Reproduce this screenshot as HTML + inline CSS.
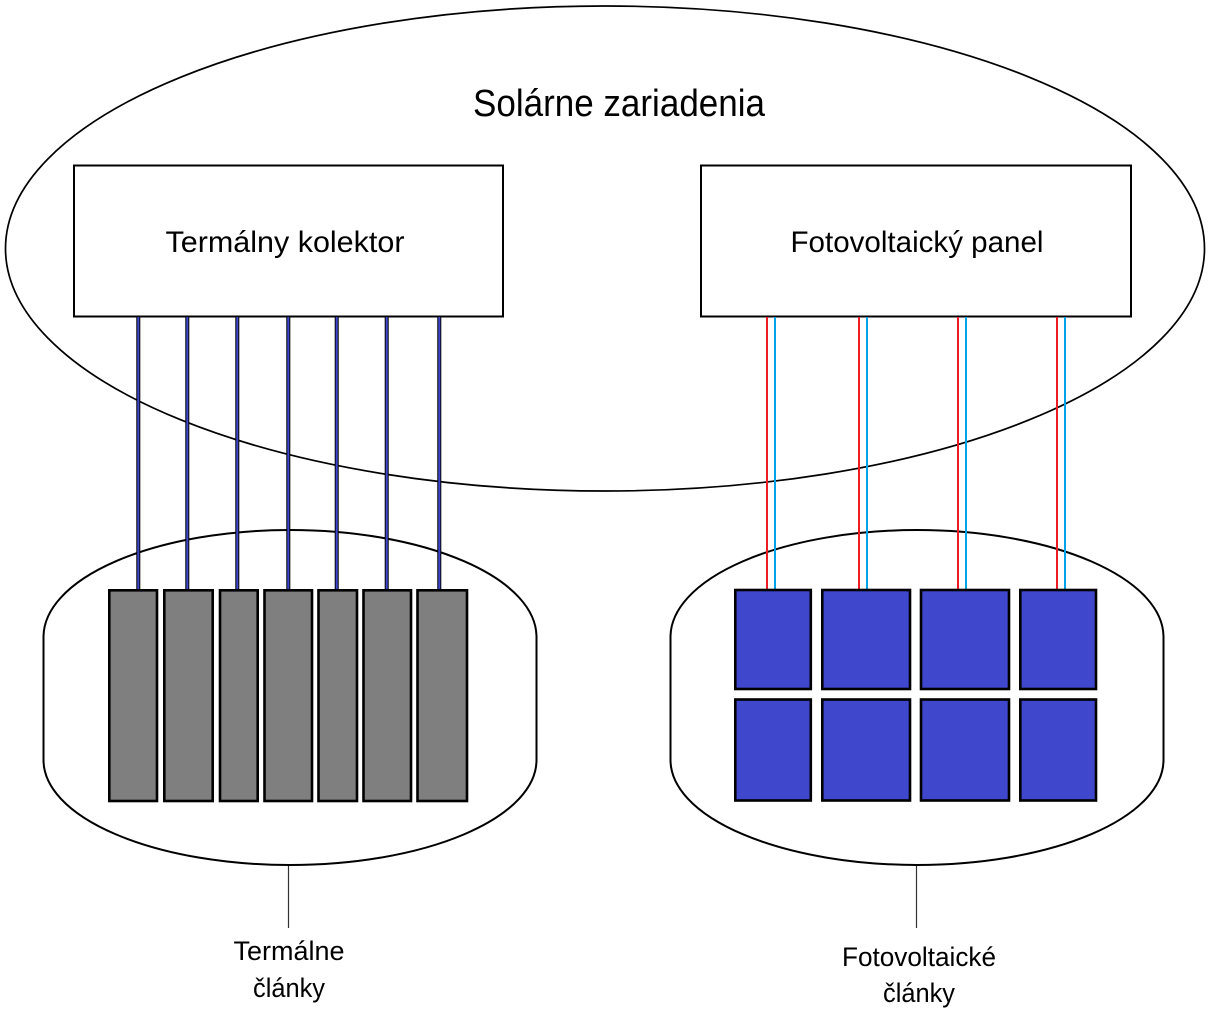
<!DOCTYPE html>
<html><head><meta charset="utf-8"><style>
html,body{margin:0;padding:0;background:#fff;}
svg{display:block;}
text{font-family:"Liberation Sans",sans-serif;fill:#000;}
</style></head><body>
<svg width="1211" height="1015" viewBox="0 0 1211 1015" xmlns="http://www.w3.org/2000/svg">
<rect width="1211" height="1015" fill="#fff"/>
<!-- big ellipse -->
<ellipse cx="605" cy="248.5" rx="599.5" ry="242.5" fill="none" stroke="#000" stroke-width="1.7"/>
<text x="619" y="116" font-size="38" text-anchor="middle" textLength="292" lengthAdjust="spacingAndGlyphs">Solárne zariadenia</text>

<!-- lenses -->
<path d="M43.5 637 A246.5 107 0 0 1 536.5 637 L536.5 760 A246.5 105 0 0 1 43.5 760 Z" fill="none" stroke="#000" stroke-width="2"/>
<path d="M670.5 637 A246.5 107 0 0 1 1163.5 637 L1163.5 760 A246.5 105 0 0 1 670.5 760 Z" fill="none" stroke="#000" stroke-width="2"/>

<!-- boxes -->
<rect x="74" y="165.5" width="429" height="151" fill="#fff" stroke="#000" stroke-width="2"/>
<text x="285" y="252" font-size="29.5" text-anchor="middle" textLength="239" lengthAdjust="spacingAndGlyphs">Termálny kolektor</text>
<rect x="701" y="165.5" width="430" height="151" fill="#fff" stroke="#000" stroke-width="2"/>
<text x="917" y="252" font-size="29.5" text-anchor="middle" textLength="253" lengthAdjust="spacingAndGlyphs">Fotovoltaický panel</text>

<!-- thermal lines -->
<g>
<rect x="136.3" y="317" width="4" height="272" fill="#000"/><rect x="137.3" y="317" width="2" height="272" fill="#3F48CC"/>
<rect x="185.3" y="317" width="4" height="272" fill="#000"/><rect x="186.3" y="317" width="2" height="272" fill="#3F48CC"/>
<rect x="235.3" y="317" width="4" height="272" fill="#000"/><rect x="236.3" y="317" width="2" height="272" fill="#3F48CC"/>
<rect x="286.3" y="317" width="4" height="272" fill="#000"/><rect x="287.3" y="317" width="2" height="272" fill="#3F48CC"/>
<rect x="334.7" y="317" width="4" height="272" fill="#000"/><rect x="335.7" y="317" width="2" height="272" fill="#3F48CC"/>
<rect x="384.7" y="317" width="4" height="272" fill="#000"/><rect x="385.7" y="317" width="2" height="272" fill="#3F48CC"/>
<rect x="437.3" y="317" width="4" height="272" fill="#000"/><rect x="438.3" y="317" width="2" height="272" fill="#3F48CC"/>
</g>

<!-- pv lines -->
<g>
<rect x="766" y="317" width="2" height="272" fill="#ED1C24"/><rect x="774" y="317" width="2" height="272" fill="#00A2E8"/>
<rect x="858" y="317" width="2" height="272" fill="#ED1C24"/><rect x="866" y="317" width="2" height="272" fill="#00A2E8"/>
<rect x="957" y="317" width="2" height="272" fill="#ED1C24"/><rect x="965" y="317" width="2" height="272" fill="#00A2E8"/>
<rect x="1056" y="317" width="2" height="272" fill="#ED1C24"/><rect x="1064" y="317" width="2" height="272" fill="#00A2E8"/>
</g>

<!-- gray cells -->
<g fill="#7F7F7F" stroke="#000" stroke-width="2.6">
<rect x="109.3" y="590.3" width="47.7" height="210.7"/>
<rect x="164.3" y="590.3" width="48.4" height="210.7"/>
<rect x="220" y="590.3" width="37.7" height="210.7"/>
<rect x="264.5" y="590.3" width="47.5" height="210.7"/>
<rect x="318.5" y="590.3" width="38.5" height="210.7"/>
<rect x="363.5" y="590.3" width="47.5" height="210.7"/>
<rect x="417.5" y="590.3" width="49.5" height="210.7"/>
</g>

<!-- blue cells -->
<g fill="#3F48CC" stroke="#000" stroke-width="2.6">
<rect x="735.3" y="590" width="75.5" height="99"/>
<rect x="822.3" y="590" width="87.7" height="99"/>
<rect x="921" y="590" width="88" height="99"/>
<rect x="1020.3" y="590" width="75.7" height="99"/>
<rect x="735.3" y="699.5" width="75.5" height="101"/>
<rect x="822.3" y="699.5" width="87.7" height="101"/>
<rect x="921" y="699.5" width="88" height="101"/>
<rect x="1020.3" y="699.5" width="75.7" height="101"/>
</g>

<!-- label connectors -->
<line x1="288.5" y1="866" x2="288.5" y2="928" stroke="#333" stroke-width="1.2"/>
<line x1="916.5" y1="866" x2="916.5" y2="928" stroke="#333" stroke-width="1.2"/>

<!-- labels -->
<text x="289" y="960" font-size="27" text-anchor="middle" textLength="111" lengthAdjust="spacingAndGlyphs">Termálne</text>
<text x="289" y="997" font-size="27" text-anchor="middle" textLength="72" lengthAdjust="spacingAndGlyphs">články</text>
<text x="919" y="966" font-size="27" text-anchor="middle" textLength="154" lengthAdjust="spacingAndGlyphs">Fotovoltaické</text>
<text x="919" y="1002" font-size="27" text-anchor="middle" textLength="72" lengthAdjust="spacingAndGlyphs">články</text>
</svg>
</body></html>
